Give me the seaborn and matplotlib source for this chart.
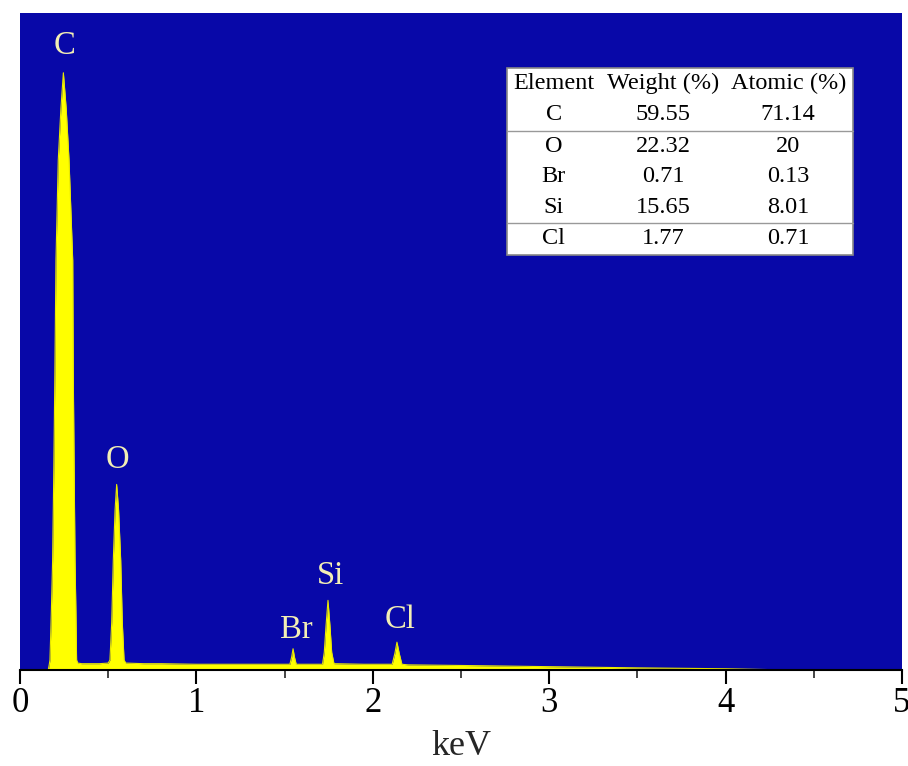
import matplotlib

matplotlib.use("Agg")
import matplotlib.pyplot as plt
from matplotlib.patches import Rectangle
from matplotlib.ticker import MultipleLocator
import pandas as pd
import seaborn as sns

# EDS spectrum (energy in keV, counts in arbitrary units)
energy = [0.160, 0.165, 0.170, 0.178, 0.185, 0.192, 0.198, 0.204, 0.217, 0.232,
          0.246, 0.262, 0.278, 0.299, 0.302, 0.307, 0.312, 0.317, 0.321, 0.328,
          0.35, 0.40, 0.45, 0.50, 0.51, 0.52, 0.529, 0.539, 0.548, 0.559,
          0.571, 0.58, 0.59, 0.60, 0.70, 0.80, 1.00, 1.20, 1.40, 1.53,
          1.54, 1.548, 1.556, 1.566, 1.65, 1.715, 1.725, 1.735, 1.746, 1.757,
          1.767, 1.78, 1.95, 2.11, 2.125, 2.137, 2.15, 2.165, 2.20, 2.50,
          3.00, 3.50, 4.00, 4.30, 4.32, 5.00]
counts = [0, 8, 17, 100, 184, 340, 502, 686, 854, 940,
          1000, 940, 854, 686, 502, 340, 184, 100, 17, 12,
          11, 11, 11, 12, 17, 80, 184, 268, 311, 268,
          184, 80, 17, 12, 11, 11, 10, 10, 10, 10,
          22, 36, 22, 10, 10, 10, 30, 75, 117, 75,
          30, 11, 10, 10, 28, 47, 28, 10, 9, 8,
          6, 4, 2.5, 0.8, 0, 0]

peak_labels = ["C", "O", "Br", "Si", "Cl"]
peak_x = [0.25, 0.55, 1.565, 1.763, 2.155]
peak_y = [1046, 352, 67, 159, 84]

table_header = ["Element", "Weight (%)", "Atomic (%)"]
elements = ["C", "O", "Br", "Si", "Cl"]
weight_pct = ["59.55", "22.32", "0.71", "15.65", "1.77"]
atomic_pct = ["71.14", "20", "0.13", "8.01", "0.71"]

BLUE = "#0808a8"
LABEL_COLOR = "#f3efb4"

sns.set_style("ticks")
plt.rcParams["font.family"] = ["Liberation Serif", "DejaVu Serif"]

df = pd.DataFrame({"keV": energy, "counts": counts})

fig = plt.figure(figsize=(9.08, 7.66), dpi=100)
ax = fig.add_axes([0.022, 0.125, 0.9714, 0.858])
ax.set_facecolor(BLUE)

ax.fill_between(df["keV"], df["counts"], 0, color="#ffff00", linewidth=0)
sns.lineplot(data=df, x="keV", y="counts", ax=ax, color="#e8e800",
             linewidth=0.8, estimator=None, sort=False)

for lab, x, y in zip(peak_labels, peak_x, peak_y):
    ax.text(x, y, lab, color=LABEL_COLOR, fontsize=23.5, ha="center", va="center")

ax.set_xlim(0, 5)
ax.set_ylim(0, 1100)
ax.set_yticks([])
ax.set_ylabel("")
ax.set_xlabel("keV", fontsize=26, labelpad=7)
ax.xaxis.set_major_locator(MultipleLocator(1))
ax.xaxis.set_minor_locator(MultipleLocator(0.5))
ax.tick_params(axis="x", which="major", direction="out", length=10, width=1.5,
               labelsize=25, pad=2, colors="black")
ax.tick_params(axis="x", which="minor", direction="out", length=6, width=1.2)
for side in ["top", "right", "left"]:
    ax.spines[side].set_visible(False)
ax.spines["bottom"].set_linewidth(1.5)
ax.spines["bottom"].set_color("black")

# composition table (upper right)
left, right, top, bottom = 0.552, 0.944, 0.916, 0.632
ax.add_patch(Rectangle((left, bottom), right - left, top - bottom,
                       transform=ax.transAxes, facecolor="white",
                       edgecolor="#888888", linewidth=1.2, zorder=5))
col_x = [0.605, 0.729, 0.871]
row_y = [0.8935, 0.8463, 0.7976, 0.7519, 0.7047, 0.6575]
rows = [table_header] + [list(r) for r in zip(elements, weight_pct, atomic_pct)]
for ry, row in zip(row_y, rows):
    for cx, txt in zip(col_x, row):
        ax.text(cx, ry, txt, transform=ax.transAxes, fontsize=17.5,
                ha="center", va="center", color="black", zorder=6)
for ly in [0.8204, 0.6804]:
    ax.plot([left, right], [ly, ly], transform=ax.transAxes,
            color="#999999", linewidth=1, zorder=6)

fig.savefig("out.png", dpi=100, facecolor="white")
